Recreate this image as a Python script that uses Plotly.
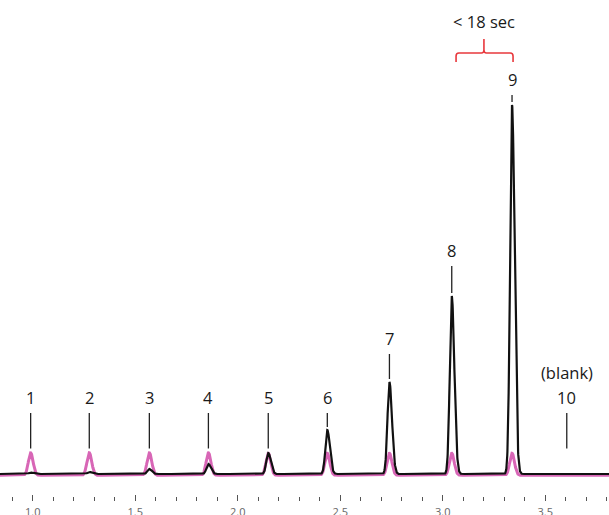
import numpy as np
import plotly.graph_objects as go

# ---- data ----
peak_ids = ["1", "2", "3", "4", "5", "6", "7", "8", "9", "10"]
retention_min = [0.990, 1.276, 1.569, 1.857, 2.149, 2.437, 2.740, 3.044, 3.338, 3.605]
black_height = [1.5, 2.0, 5.0, 10.0, 21.0, 44.0, 92.0, 178.0, 369.0, 0.0]
pink_height = [22.5, 22.5, 22.5, 22.5, 22.0, 22.0, 22.0, 22.0, 22.0, 0.0]
tick_vals = [1.0, 1.5, 2.0, 2.5, 3.0, 3.5]
tick_text = ["1.0", "1.5", "2.0", "2.5", "3.0", "3.5"]
bracket_text = "< 18 sec"
blank_text = "(blank)"

# ---- styling / layout positions ----
label_y = [77, 77, 77, 77, 77, 77, 136, 224, 395, 77]
BLACK = "#111111"
PINK = "#d866b6"
RED = "#e8383d"
FONT = "Open Sans, Noto Sans, DejaVu Sans, sans-serif"
LABEL_SIZE = 16.5

t = np.linspace(0.84, 3.82, 4000)


def trace_from_peaks(heights, sig_l, sig_r, offset):
    y = np.full_like(t, offset)
    for rt, h in zip(retention_min, heights):
        s = np.where(t < rt, sig_l, sig_r)
        y += h * np.exp(-0.5 * ((t - rt) / s) ** 2)
    return y


y_black = trace_from_peaks(black_height, 0.0095, 0.0125, 0.0)
y_pink = trace_from_peaks(pink_height, 0.0112, 0.0120, -1.3)

fig = go.Figure()
fig.add_trace(go.Scatter(x=t, y=y_pink, mode="lines",
                         line=dict(color=PINK, width=3), hoverinfo="skip"))
fig.add_trace(go.Scatter(x=t, y=y_black, mode="lines",
                         line=dict(color=BLACK, width=2.2), hoverinfo="skip"))

shapes = []
annotations = []
for pid, rt, hb, hp, ly in zip(peak_ids, retention_min, black_height, pink_height, label_y):
    top = ly - 16
    bottom = max(hb, hp, 22.5) + 3
    shapes.append(dict(type="line", xref="x", yref="y", x0=rt, x1=rt, y0=bottom, y1=top,
                       line=dict(color="#222222", width=1.3)))
    annotations.append(dict(x=rt, y=ly, xref="x", yref="y", text=pid, showarrow=False,
                            font=dict(family=FONT, size=LABEL_SIZE, color="#1a1a1a")))

annotations.append(dict(x=retention_min[9], y=102, xref="x", yref="y", text=blank_text,
                        showarrow=False, font=dict(family=FONT, size=LABEL_SIZE, color="#1a1a1a")))

# red bracket between peaks 8 and 9
x0, xc, x1 = 3.065, 3.201, 3.343
path = (f"M {x0},412 L {x0},418 Q {x0},421 {x0+0.014},421 L {xc-0.012},421 "
        f"Q {xc},421 {xc},424 L {xc},435 M {xc},424 Q {xc},421 {xc+0.012},421 "
        f"L {x1-0.014},421 Q {x1},421 {x1},418 L {x1},412")
shapes.append(dict(type="path", xref="x", yref="y", path=path,
                   line=dict(color=RED, width=1.6)))
annotations.append(dict(x=xc, y=453, xref="x", yref="y", text=bracket_text, showarrow=False,
                        font=dict(family=FONT, size=LABEL_SIZE, color="#1a1a1a")))

fig.update_layout(
    width=609, height=515,
    margin=dict(l=0, r=0, t=0, b=14, autoexpand=False),
    paper_bgcolor="white", plot_bgcolor="white",
    showlegend=False,
    shapes=shapes, annotations=annotations,
    xaxis=dict(range=[0.8405, 3.811], showgrid=False, zeroline=False, showline=False,
               automargin=False,
               tickmode="array", tickvals=tick_vals, ticktext=tick_text,
               ticks="inside", ticklen=6, tickwidth=1, tickcolor="#555555",
               minor=dict(ticks="inside", ticklen=4, tickwidth=1, tickcolor="#555555",
                          dtick=0.1, tick0=0.0, showgrid=False),
               ticklabelstandoff=3,
               tickfont=dict(family=FONT, size=11, color="#666666")),
    yaxis=dict(range=[-27, 474], visible=False, showgrid=False, zeroline=False),
)

fig.write_html("out.html", config={"displayModeBar": False},
               post_script="document.body.style.margin='0';document.body.style.overflow='hidden';")
